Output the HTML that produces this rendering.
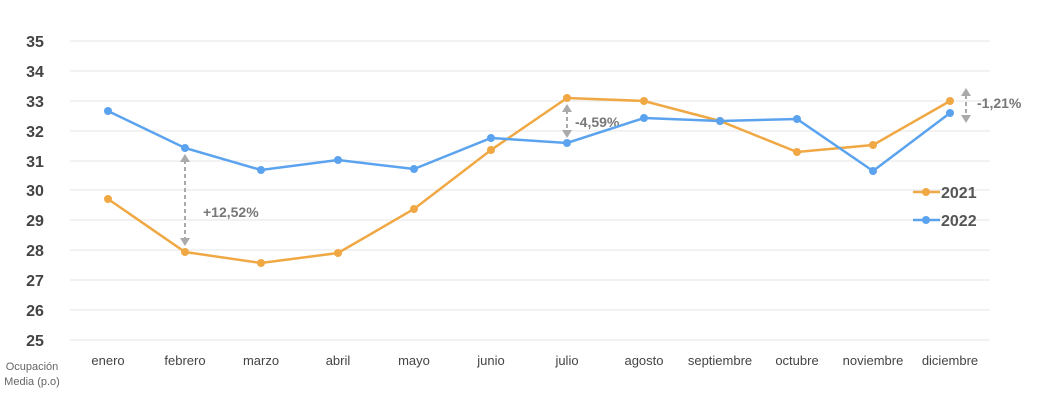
<!DOCTYPE html>
<html><head><meta charset="utf-8"><style>
body{margin:0;background:#fff;}
svg{display:block;font-family:"Liberation Sans",sans-serif;}
</style></head><body>
<svg width="1052" height="406" viewBox="0 0 1052 406" xmlns="http://www.w3.org/2000/svg">
<g stroke="#e6e6e6" stroke-width="1">
<line x1="70" x2="990" y1="41" y2="41"/><line x1="70" x2="990" y1="71" y2="71"/>
<line x1="70" x2="990" y1="101" y2="101"/><line x1="70" x2="990" y1="131" y2="131"/>
<line x1="70" x2="990" y1="161" y2="161"/><line x1="70" x2="990" y1="190" y2="190"/>
<line x1="70" x2="990" y1="220" y2="220"/><line x1="70" x2="990" y1="250" y2="250"/>
<line x1="70" x2="990" y1="280" y2="280"/><line x1="70" x2="990" y1="310" y2="310"/>
<line x1="70" x2="990" y1="340" y2="340"/>
</g>
<g font-size="16" font-weight="bold" fill="#444" text-anchor="middle">
<text x="35" y="47">35</text><text x="35" y="77">34</text><text x="35" y="107">33</text>
<text x="35" y="137">32</text><text x="35" y="167">31</text><text x="35" y="196">30</text>
<text x="35" y="226">29</text><text x="35" y="256">28</text><text x="35" y="286">27</text>
<text x="35" y="316">26</text><text x="35" y="346">25</text>
</g>
<g font-size="11" fill="#666" text-anchor="middle">
<text x="32" y="370">Ocupación</text><text x="32" y="385">Media (p.o)</text>
</g>
<g font-size="13" fill="#444" text-anchor="middle">
<text x="108" y="365">enero</text><text x="185" y="365">febrero</text><text x="261" y="365">marzo</text>
<text x="338" y="365">abril</text><text x="414" y="365">mayo</text><text x="491" y="365">junio</text>
<text x="567" y="365">julio</text><text x="644" y="365">agosto</text><text x="720" y="365">septiembre</text>
<text x="797" y="365">octubre</text><text x="873" y="365">noviembre</text><text x="950" y="365">diciembre</text>
</g>
<!-- annotations -->
<g stroke="#aaa" stroke-width="2" fill="#aaa">
<line x1="185" y1="160" x2="185" y2="240" stroke-dasharray="4,3"/>
<path d="M180 162 L185 154 L190 162Z" stroke="none"/><path d="M180 238 L185 246 L190 238Z" stroke="none"/>
<line x1="567" y1="110" x2="567" y2="132" stroke-dasharray="4,3"/>
<path d="M562 112 L567 104 L572 112Z" stroke="none"/><path d="M562 130 L567 138 L572 130Z" stroke="none"/>
<line x1="966" y1="95" x2="966" y2="116" stroke-dasharray="4,3"/>
<path d="M961 96 L966 88 L971 96Z" stroke="none"/><path d="M961 115 L966 123 L971 115Z" stroke="none"/>
</g>
<g font-size="14" font-weight="bold" fill="#777">
<text x="203" y="217">+12,52%</text>
<text x="575" y="127">-4,59%</text>
<text x="977" y="108">-1,21%</text>
</g>
<polyline fill="none" stroke="#f0a845" stroke-width="2.5" points="108,199 185,252 261,263 338,253 414,209 491,150 567,98 644,101 720,121 797,152 873,145 950,101"/>
<polyline fill="none" stroke="#5ba3ee" stroke-width="2.5" points="108,111 185,148 261,170 338,160 414,169 491,138 567,143 644,118 720,121 797,119 873,171 950,113"/>
<g fill="#f0a845">
<circle cx="108" cy="199" r="4"/><circle cx="185" cy="252" r="4"/><circle cx="261" cy="263" r="4"/><circle cx="338" cy="253" r="4"/><circle cx="414" cy="209" r="4"/><circle cx="491" cy="150" r="4"/><circle cx="567" cy="98" r="4"/><circle cx="644" cy="101" r="4"/><circle cx="720" cy="121" r="4"/><circle cx="797" cy="152" r="4"/><circle cx="873" cy="145" r="4"/><circle cx="950" cy="101" r="4"/>
</g>
<g fill="#5ba3ee">
<circle cx="108" cy="111" r="4"/><circle cx="185" cy="148" r="4"/><circle cx="261" cy="170" r="4"/><circle cx="338" cy="160" r="4"/><circle cx="414" cy="169" r="4"/><circle cx="491" cy="138" r="4"/><circle cx="567" cy="143" r="4"/><circle cx="644" cy="118" r="4"/><circle cx="720" cy="121" r="4"/><circle cx="797" cy="119" r="4"/><circle cx="873" cy="171" r="4"/><circle cx="950" cy="113" r="4"/>
</g>
<line x1="913" y1="192" x2="940" y2="192" stroke="#f0a845" stroke-width="2.5"/><circle cx="926" cy="192" r="4" fill="#f0a845"/>
<line x1="913" y1="220" x2="940" y2="220" stroke="#5ba3ee" stroke-width="2.5"/><circle cx="926" cy="220" r="4" fill="#5ba3ee"/>
<g font-size="16" font-weight="bold" fill="#555">
<text x="941" y="198">2021</text><text x="941" y="226">2022</text>
</g>
</svg>
</body></html>
